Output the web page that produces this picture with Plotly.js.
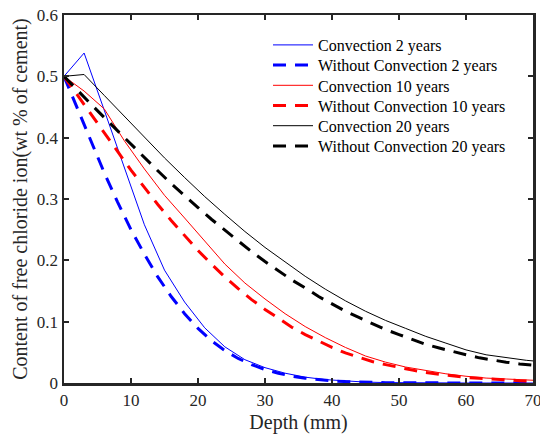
<!DOCTYPE html>
<html>
<head>
<meta charset="utf-8">
<script src="https://cdn.plot.ly/plotly-3.0.1.min.js"></script>
<style>html,body{margin:0;padding:0;background:#fff;}#chart{width:540px;height:434px;}</style>
</head>
<body>
<div id="chart"></div>
<script>
// Convection curves (nodes every 3 mm)
var depthConv = [0,3,6,9,12,15,18,21,24,27,30,33,36,39,42,45,48,51,54,57,60,63,66,69,70];
var conv2 = [0.5,0.538,0.445,0.351,0.258,0.184,0.132,0.090,0.059,0.038,0.025,0.016,0.0095,0.0055,0.003,0.0015,0.0007,0.0003,0,0,0,0,0,0,0];
var conv10 = [0.5,0.476,0.447,0.395,0.349,0.306,0.269,0.232,0.194,0.163,0.137,0.113,0.092,0.074,0.058,0.044,0.034,0.026,0.020,0.015,0.011,0.008,0.0065,0.005,0.0045];
var conv20 = [0.5,0.503,0.469,0.435,0.401,0.367,0.335,0.304,0.275,0.247,0.221,0.197,0.174,0.153,0.134,0.117,0.102,0.089,0.076,0.065,0.054,0.046,0.041,0.037,0.036];
// Without convection curves (every 2 mm)
var depthNo = [0,2,4,6,8,10,12,14,16,18,20,22,24,26,28,30,32,34,36,38,40,42,44,46,48,50,52,54,56,58,60,62,64,66,68,70];
var noConv2 = [0.5,0.447,0.394,0.343,0.295,0.250,0.210,0.173,0.141,0.113,0.089,0.069,0.053,0.040,0.030,0.022,0.016,0.011,0.0078,0.0053,0.0035,0.0023,0.0015,0.001,0.0006,0.0004,0.0002,0,0,0,0,0,0,0,0,0];
var noConv10 = [0.5,0.469,0.438,0.407,0.377,0.347,0.319,0.291,0.265,0.240,0.216,0.194,0.173,0.154,0.136,0.120,0.105,0.091,0.079,0.068,0.058,0.049,0.042,0.035,0.030,0.025,0.021,0.017,0.014,0.011,0.009,0.0077,0.006,0.0048,0.0038,0.003];
var noConv20 = [0.5,0.477,0.455,0.433,0.411,0.389,0.367,0.346,0.325,0.305,0.286,0.267,0.249,0.231,0.214,0.198,0.183,0.168,0.155,0.141,0.129,0.117,0.107,0.097,0.087,0.079,0.071,0.063,0.057,0.051,0.046,0.041,0.037,0.034,0.031,0.029];

var names = ["Convection 2 years","Without Convection 2 years","Convection 10 years","Without Convection 10 years","Convection 20 years","Without Convection 20 years"];
var xTicks = [0,10,20,30,40,50,60,70];
var yTicks = [0,0.1,0.2,0.3,0.4,0.5,0.6];
var yTickText = ["0","0.1","0.2","0.3","0.4","0.5","0.6"];

var dashStyle = "13px,9px";
var legendIds = ["legend","legend2","legend3","legend4","legend5","legend6"];
function thin(x,y,name,color,lg){return {x:x,y:y,name:name,legend:lg,type:"scatter",mode:"lines",line:{color:color,width:1},hoverinfo:"x+y"};}
function dashed(x,y,name,color,lg){return {x:x,y:y,name:name,legend:lg,type:"scatter",mode:"lines",line:{color:color,width:3,dash:dashStyle},hoverinfo:"x+y"};}

var data = [
  thin(depthConv,conv2,names[0],"#0000ff",legendIds[0]),
  dashed(depthNo,noConv2,names[1],"#0000ff",legendIds[1]),
  thin(depthConv,conv10,names[2],"#ff0000",legendIds[2]),
  dashed(depthNo,noConv10,names[3],"#ff0000",legendIds[3]),
  thin(depthConv,conv20,names[4],"#000000",legendIds[4]),
  dashed(depthNo,noConv20,names[5],"#000000",legendIds[5])
];

var fontFam = "Liberation Serif, Times New Roman, serif";
var axisCommon = {
  showline:true, mirror:"ticks", linecolor:"#262626", linewidth:2.5,
  ticks:"inside", ticklen:5, tickwidth:2, tickcolor:"#262626",
  showgrid:false, zeroline:false, ticklabeloverflow:"allow",
  tickfont:{family:fontFam,size:17,color:"#262626"}
};
var layout = {
  width:540, height:434,
  margin:{l:64,r:7,t:15,b:51},
  paper_bgcolor:"#ffffff", plot_bgcolor:"#ffffff",
  font:{family:fontFam,color:"#262626"},
  xaxis:Object.assign({}, axisCommon, {
    range:[0,70], tickvals:xTicks,
    title:{text:"Depth (mm)", font:{family:fontFam,size:20,color:"#262626"}, standoff:8}
  }),
  yaxis:Object.assign({}, axisCommon, {
    range:[0,0.6], tickvals:yTicks, ticktext:yTickText,
    title:{text:"Content of free chloride ion(wt % of cement)", font:{family:fontFam,size:20,color:"#262626"}, standoff:4}
  }),
  showlegend:true
};
// one legend per entry so the row spacing can match the reference
var plotTop = 15, plotH = 368;
for (var i = 0; i < legendIds.length; i++) {
  var rowPx = 45 + 20.2 * i;
  layout[legendIds[i]] = {
    x:0.435, y:1 - (rowPx - plotTop) / plotH, xanchor:"left", yanchor:"middle",
    bgcolor:"rgba(0,0,0,0)", borderwidth:0,
    font:{family:fontFam,size:16,color:"#000000"}, itemwidth:40
  };
}
Plotly.newPlot("chart", data, layout, {displayModeBar:false, staticPlot:true});
</script>
</body>
</html>
